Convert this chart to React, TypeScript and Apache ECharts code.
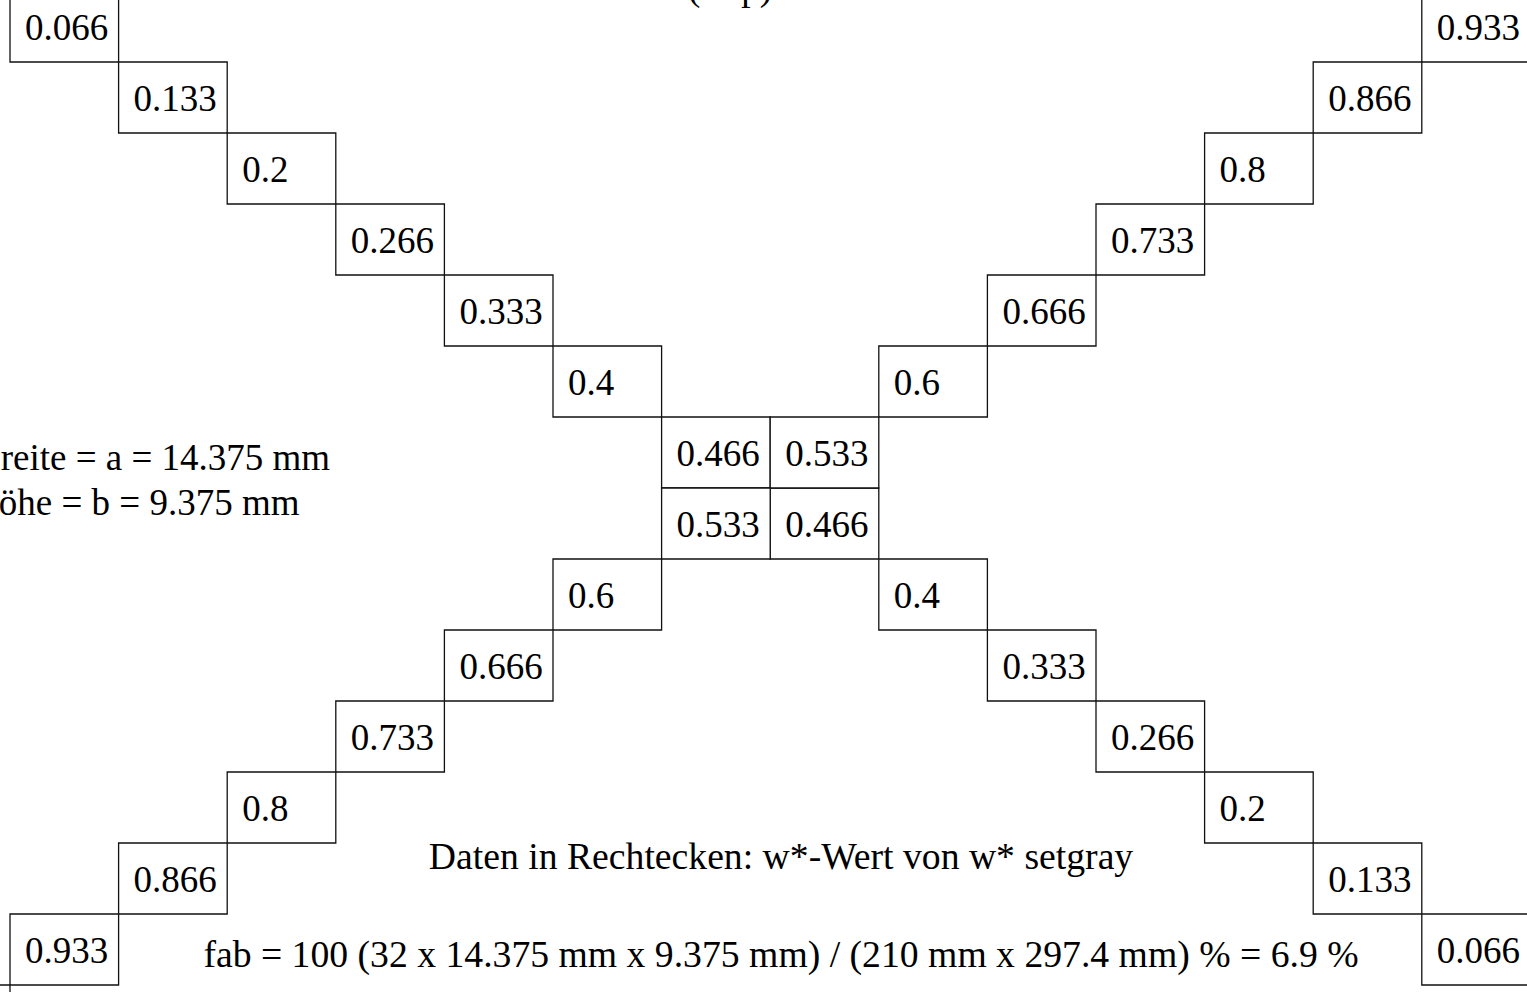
import React, { useEffect, useRef } from "react";
import * as echarts from "echarts";

// Values on the descending diagonal (row i, column i)
const diagDown = [0.066, 0.133, 0.2, 0.266, 0.333, 0.4, 0.466, 0.466, 0.4, 0.333, 0.266, 0.2, 0.133, 0.066];
// Values on the ascending diagonal (row i, column 13 - i)
const diagUp = [0.933, 0.866, 0.8, 0.733, 0.666, 0.6, 0.533, 0.533, 0.6, 0.666, 0.733, 0.8, 0.866, 0.933];
// Partially visible empty cell outside the X (column, row)
const edgeCells = [[-1, 14]];

const titleText = "(setp)";
const sideLines = ["Breite = a = 14.375 mm", "Höhe = b = 9.375 mm"];
const footLines = [
  "Daten in Rechtecken: w*-Wert von w* setgray",
  "fab = 100 (32 x 14.375 mm x 9.375 mm) / (210 mm x 297.4 mm) % = 6.9 %",
];

const N = diagDown.length;

export default function App() {
  const ref = useRef<HTMLDivElement>(null);
  useEffect(() => {
    if (!ref.current) return;
    const chart = echarts.init(ref.current, null, { renderer: "svg" });

    const data: number[][] = [];
    const labels: string[] = [];
    diagDown.forEach((v, i) => {
      data.push([i, i]);
      labels.push(String(v));
    });
    diagUp.forEach((v, i) => {
      data.push([N - 1 - i, i]);
      labels.push(String(v));
    });
    edgeCells.forEach(([c, r]) => {
      data.push([c, r]);
      labels.push("");
    });

    const font = "'Liberation Serif', 'Times New Roman', serif";
    const W = 1527;
    const H = 992;
    const colW = 108.6;
    const rowH = 71;
    const x0 = 10; // pixel of column 0's left edge
    const y0 = -9; // pixel of row 0's top edge

    chart.setOption({
      animation: false,
      backgroundColor: "#ffffff",
      grid: {
        left: 0,
        top: 0,
        width: W,
        height: H,
        containLabel: false,
        outerBoundsMode: "none",
      },
      xAxis: { type: "value", min: -x0 / colW, max: (W - x0) / colW, show: false },
      yAxis: { type: "value", min: -y0 / rowH, max: (H - y0) / rowH, inverse: true, show: false },
      series: [
        {
          type: "custom",
          clip: false,
          data,
          renderItem: (params: any, api: any) => {
            const c = api.value(0);
            const r = api.value(1);
            const p0 = api.coord([c, r]);
            const p1 = api.coord([c + 1, r + 1]);
            const label = labels[params.dataIndex];
            const children: any[] = [
              {
                type: "rect",
                shape: { x: p0[0], y: p0[1], width: p1[0] - p0[0], height: p1[1] - p0[1] },
                style: { fill: "#ffffff", stroke: "#111111", lineWidth: 1.3 },
              },
            ];
            if (label) {
              children.push({
                type: "text",
                x: p0[0] + 15,
                y: (p0[1] + p1[1]) / 2 + 1,
                style: {
                  text: label,
                  fontSize: 37,
                  fontFamily: font,
                  fill: "#000000",
                  align: "left",
                  verticalAlign: "middle",
                },
              });
            }
            return { type: "group", children };
          },
        },
      ],
      graphic: [
        {
          type: "text",
          x: 730,
          y: -12.5,
          style: { text: titleText, fontSize: 37, fontFamily: font, fill: "#000", align: "center", verticalAlign: "middle" },
        },
        ...sideLines.map((t, i) => ({
          type: "text",
          x: i === 0 ? -24 : -28,
          y: 457.5 + i * 45,
          style: { text: t, fontSize: 37, fontFamily: font, fill: "#000", align: "left", verticalAlign: "middle" },
        })),
        ...footLines.map((t, i) => ({
          type: "text",
          x: 781,
          y: 855.5 + i * 98,
          style: { text: t, fontSize: 37.7, fontFamily: font, fill: "#000", align: "center", verticalAlign: "middle" },
        })),
      ],
    });
    return () => chart.dispose();
  }, []);
  return (
    <div
      ref={ref}
      style={{ position: "fixed", left: 0, top: 0, width: 1527, height: 992, background: "#fff" }}
    />
  );
}
